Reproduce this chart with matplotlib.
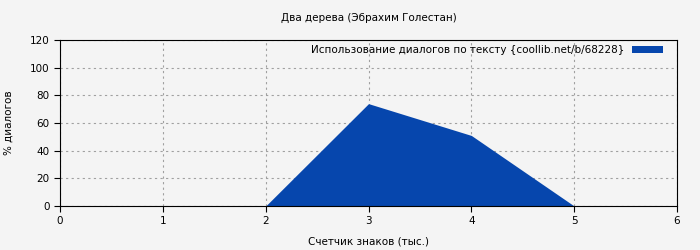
import matplotlib
matplotlib.use("Agg")
import matplotlib.pyplot as plt

# Данные графика
x_tys = [0, 1, 2, 3, 4, 5, 6]
dialog_pct = [0, 0, 0, 74, 51, 0, 0]
x_ticks = [0, 1, 2, 3, 4, 5, 6]
y_ticks = [0, 20, 40, 60, 80, 100, 120]

plt.rcParams['font.family'] = ['DejaVu Sans']
plt.rcParams['font.size'] = 7.5

fig = plt.figure(figsize=(7, 2.5), dpi=100, facecolor="#f4f4f4")
ax = fig.add_axes([60/700, 1-206/250, (677-60)/700, (206-40)/250])
ax.set_facecolor("#f4f4f4")
ax.set_axisbelow(True)

ax.fill_between(x_tys, dialog_pct, 0, color="#0646ad", linewidth=0, zorder=2,
                label="Использование диалогов по тексту {coollib.net/b/68228}")

ax.set_xlim(0, 6)
ax.set_ylim(0, 120)
ax.set_xticks(x_ticks)
ax.set_yticks(y_ticks)
ax.grid(True, color="#a0a0a0", linestyle=(0, (2, 3)), linewidth=0.8, zorder=0)
for s in ax.spines.values():
    s.set_color("black")
    s.set_linewidth(0.8)
    s.set_zorder(3)
ax.tick_params(direction="out", length=4, width=0.8, colors="black")

ax.set_title("Два дерева (Эбрахим Голестан)", fontsize=7.5, pad=14)
ax.set_xlabel("Счетчик знаков (тыс.)", labelpad=7)
ax.set_ylabel("% диалогов", labelpad=12)

leg = ax.legend(loc="upper right", frameon=False, fontsize=7.5,
                handlelength=2.9, handleheight=0.6, handletextpad=0.8,
                borderaxespad=0.1, bbox_to_anchor=(0.985, 1.0),
                markerfirst=False)

plt.savefig("out.png", dpi=100, facecolor=fig.get_facecolor())
